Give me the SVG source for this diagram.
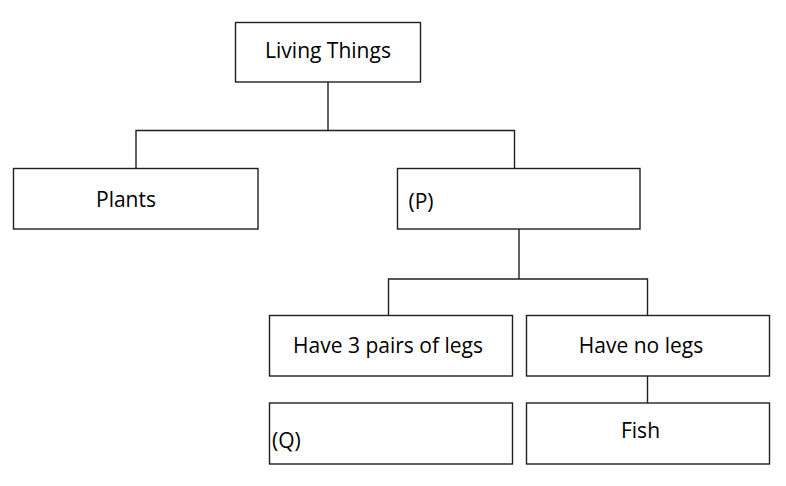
<svg xmlns="http://www.w3.org/2000/svg" width="786" height="486" viewBox="0 0 786 486">
<style>
.box{fill:#fff;stroke:#231f20;stroke-width:1.4}
.ln{fill:none;stroke:#231f20;stroke-width:1.4}
text{font-family:"Open Sans","Liberation Sans",sans-serif;font-size:21px;fill:#000}
.c{text-anchor:middle}
</style>
<rect width="786" height="486" fill="#fff"/>
<g id="connectors">
<path class="ln" d="M328 82V130.5M136 168.5V130.5H514.5V168.5"/>
<path class="ln" d="M519 229V279M388.5 315.5V279H647.5V315.5"/>
<path class="ln" d="M647.5 376V403"/>
</g>
<g id="living"><rect class="box" x="235.5" y="22.5" width="185" height="59.5"/><text class="c" x="328" y="58">Living Things</text></g>
<g id="plants"><rect class="box" x="13.5" y="168.5" width="244.5" height="60.5"/><text class="c" x="126" y="207">Plants</text></g>
<g id="p"><rect class="box" x="397.5" y="168.5" width="242.5" height="60.5"/><text x="408.5" y="209">(P)</text></g>
<g id="legs3"><rect class="box" x="269.5" y="315.5" width="243" height="60.5"/><text class="c" x="388" y="353">Have 3 pairs of legs</text></g>
<g id="nolegs"><rect class="box" x="526.5" y="315.5" width="243" height="60.5"/><text class="c" x="641" y="353">Have no legs</text></g>
<g id="q"><rect class="box" x="269.5" y="403" width="243" height="61"/><text x="272" y="448">(Q)</text></g>
<g id="fish"><rect class="box" x="526.5" y="403" width="243" height="61"/><text class="c" x="640.5" y="438">Fish</text></g>
</svg>
